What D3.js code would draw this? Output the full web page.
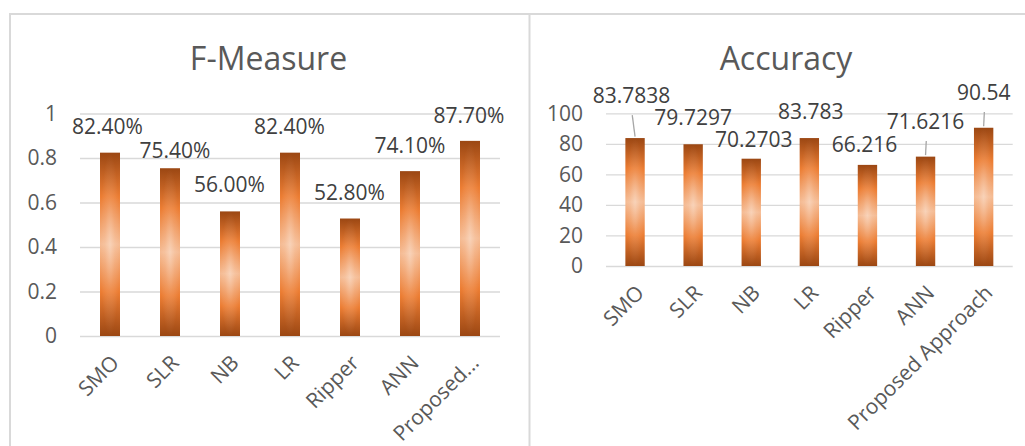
<!DOCTYPE html>
<html>
<head>
<meta charset="utf-8">
<script src="https://cdn.jsdelivr.net/npm/d3@7"></script>
<style>
  html, body { margin: 0; padding: 0; background: #fff; }
  svg { display: block; font-family: "Open Sans", sans-serif; }
</style>
</head>
<body>
<svg id="chart" width="1025" height="446"></svg>
<script>
const methods = ["SMO", "SLR", "NB", "LR", "Ripper", "ANN", "Proposed Approach"];

const fMeasure = [0.824, 0.754, 0.56, 0.824, 0.528, 0.741, 0.877];
const fMeasureLabels = ["82.40%", "75.40%", "56.00%", "82.40%", "52.80%", "74.10%", "87.70%"];
const fTicks = [0, 0.2, 0.4, 0.6, 0.8, 1];

const accuracy = [83.7838, 79.7297, 70.2703, 83.783, 66.216, 71.6216, 90.54];
const accuracyLabels = ["83.7838", "79.7297", "70.2703", "83.783", "66.216", "71.6216", "90.54"];
const accTicks = [0, 20, 40, 60, 80, 100];

// label placement as it was dragged in the original: [dx, rise above bar top]
const fLabelPos = [[-2.5, 19], [5, 10], [-0.5, 19], [-0.5, 19], [-0.5, 19], [0, 18], [-1, 18]];
const accLabelPos = [[-3.5, 35], [0, 19], [2.5, 12], [1.5, 19], [-3, 13.3], [0, 27.7], [0, 27.7]];

const svg = d3.select("#chart");

// bar fill: dark-orange-light-orange-dark with a soft spot in the middle
const defs = svg.append("defs");
const lin = defs.append("linearGradient")
  .attr("id", "barFill")
  .attr("x1", 0).attr("y1", 0).attr("x2", 0).attr("y2", 1);
[[0, "#9b4713"], [0.24, "#ec7d33"], [0.5, "#f5bb93"], [0.76, "#ec7d33"], [1, "#9b4713"]]
  .forEach(([o, c]) => lin.append("stop").attr("offset", o).attr("stop-color", c));
const rad = defs.append("radialGradient")
  .attr("id", "barSpot")
  .attr("cx", 0.5).attr("cy", 0.5).attr("r", 0.5);
rad.append("stop").attr("offset", 0).attr("stop-color", "#fff").attr("stop-opacity", 0.35);
rad.append("stop").attr("offset", 0.5).attr("stop-color", "#fff").attr("stop-opacity", 0.12);
rad.append("stop").attr("offset", 1).attr("stop-color", "#fff").attr("stop-opacity", 0);

// outer frame of the two charts
svg.append("path")
  .attr("d", "M10,446 V14 H1025 M529.5,14 V446")
  .attr("fill", "none")
  .attr("stroke", "#d9d9d9")
  .attr("stroke-width", 2);

function drawPanel(o) {
  const g = svg.append("g");

  const x = d3.scaleBand()
    .domain(methods)
    .range([o.x0, o.x1])
    .paddingInner(2 / 3)
    .paddingOuter(1 / 3);

  const y = d3.scaleLinear()
    .domain([0, o.max])
    .range([o.yBottom, o.yTop]);

  g.append("text")
    .attr("x", o.titleX)
    .attr("y", 70)
    .attr("text-anchor", "middle")
    .attr("font-size", 32)
    .attr("fill", "#595959")
    .text(o.title);

  const yAxis = g.append("g")
    .attr("transform", `translate(${o.x0},0)`)
    .call(d3.axisLeft(y).tickValues(o.ticks).tickSize(-(o.x1 - o.x0)).tickPadding(23).tickFormat(d3.format("")));
  yAxis.select(".domain").remove();
  yAxis.selectAll("line").attr("stroke", "#d9d9d9").attr("stroke-width", 1.3);
  yAxis.selectAll("text")
    .attr("font-size", 21)
    .attr("font-family", "Open Sans, sans-serif")
    .attr("fill", "#595959");

  const xAxis = g.append("g")
    .attr("transform", `translate(0,${o.yBottom})`)
    .call(d3.axisBottom(x).tickSize(0).tickFormat(o.catFmt));
  xAxis.select(".domain").remove();
  xAxis.selectAll("text")
    .attr("font-size", 21)
    .attr("font-family", "Open Sans, sans-serif")
    .attr("fill", "#595959")
    .attr("text-anchor", "end")
    .attr("x", 0).attr("y", 0).attr("dy", "0.35em")
    .attr("transform", "translate(5,23) rotate(-45)");

  const bars = g.selectAll(".bar")
    .data(o.values)
    .join("g")
    .attr("class", "bar");
  bars.append("rect")
    .attr("x", (d, i) => x(methods[i]))
    .attr("y", d => y(d))
    .attr("width", x.bandwidth())
    .attr("height", d => y(0) - y(d))
    .attr("fill", "url(#barFill)");
  bars.append("rect")
    .attr("x", (d, i) => x(methods[i]))
    .attr("y", d => y(d))
    .attr("width", x.bandwidth())
    .attr("height", d => y(0) - y(d))
    .attr("fill", "url(#barSpot)");

  const cx = i => x(methods[i]) + x.bandwidth() / 2;

  // leader lines for labels that sit far above their bar
  g.selectAll(".leader")
    .data(o.values.map((d, i) => i).filter(i => o.labelPos[i][1] > 22))
    .join("line")
    .attr("x1", i => cx(i) + o.labelPos[i][0] + 0.7)
    .attr("y1", i => y(o.values[i]) - o.labelPos[i][1] + 12)
    .attr("x2", i => cx(i))
    .attr("y2", i => y(o.values[i]) - 1.5)
    .attr("stroke", "#a6a6a6")
    .attr("stroke-width", 1.3);

  g.selectAll(".lbl")
    .data(o.labels)
    .join("text")
    .attr("x", (d, i) => cx(i) + o.labelPos[i][0])
    .attr("y", (d, i) => y(o.values[i]) - o.labelPos[i][1])
    .attr("text-anchor", "middle")
    .attr("font-size", 21)
    .attr("fill", "#404040")
    .text(d => d);
}

drawPanel({
  title: "F-Measure", titleX: 268.5,
  x0: 80, x1: 500, yTop: 113.5, yBottom: 336,
  max: 1, ticks: fTicks,
  values: fMeasure, labels: fMeasureLabels, labelPos: fLabelPos,
  catFmt: d => d.length > 12 ? d.split(" ")[0] + "..." : d
});

drawPanel({
  title: "Accuracy", titleX: 786,
  x0: 606, x1: 1012.7, yTop: 113.3, yBottom: 266,
  max: 100, ticks: accTicks,
  values: accuracy, labels: accuracyLabels, labelPos: accLabelPos,
  catFmt: d => d
});
</script>
</body>
</html>
